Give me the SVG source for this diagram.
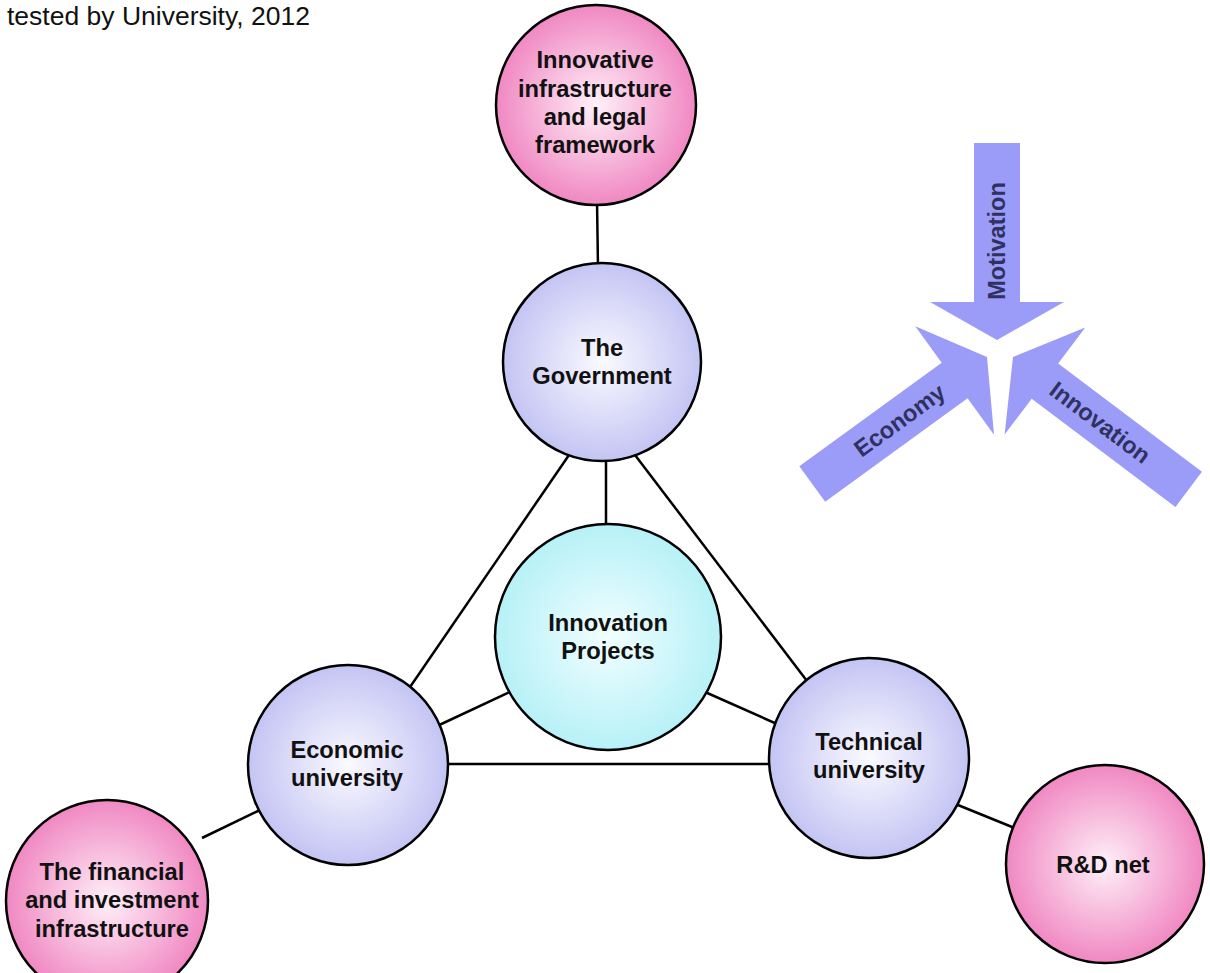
<svg xmlns="http://www.w3.org/2000/svg" width="1210" height="973" viewBox="0 0 1210 973">
<style>
  .node circle { stroke: #000; stroke-width: 2.5; }
  .lbl { font-family: "Liberation Sans", Arial, sans-serif; font-weight: bold; font-size: 23.7px; fill: #111; text-anchor: middle; }
  .conn line { stroke: #000; stroke-width: 2.5; }
  .arrow path { fill: #9b9bf8; }
  .alabel { font-family: "Liberation Sans", Arial, sans-serif; font-weight: bold; font-size: 23.5px; fill: #2f3260; text-anchor: middle; dominant-baseline: central; }
  .title { font-family: "Liberation Sans", Arial, sans-serif; font-size: 26.5px; fill: #111; }
</style>
<defs>
  <radialGradient id="gPink" cx="50%" cy="50%" r="50%">
    <stop offset="0" stop-color="#fff0f8"/>
    <stop offset="1" stop-color="#f088c2"/>
  </radialGradient>
  <radialGradient id="gLav" cx="50%" cy="50%" r="50%">
    <stop offset="0" stop-color="#fafaff"/>
    <stop offset="1" stop-color="#c4c4f4"/>
  </radialGradient>
  <radialGradient id="gCyan" cx="50%" cy="50%" r="50%">
    <stop offset="0" stop-color="#f2feff"/>
    <stop offset="1" stop-color="#b6f1f7"/>
  </radialGradient>
</defs>
<rect width="1210" height="973" fill="#fff"/>
<text class="title" x="7" y="25">tested by University, 2012</text>

<g id="connectors" class="conn">
  <line x1="597" y1="200" x2="598" y2="268"/>
  <line x1="606" y1="455" x2="606" y2="530"/>
  <line x1="569" y1="455" x2="408" y2="690"/>
  <line x1="635" y1="455" x2="807" y2="681"/>
  <line x1="512" y1="691" x2="435" y2="727"/>
  <line x1="705" y1="692" x2="777" y2="724"/>
  <line x1="442" y1="764" x2="774" y2="764"/>
  <line x1="260" y1="810" x2="202" y2="838"/>
  <line x1="953" y1="803" x2="1017" y2="829"/>
</g>

<g id="arrows" class="arrow">
  <g id="arrow-motivation" transform="translate(997,340) rotate(90)">
    <path d="M0,0 L-38,-67 L-38,-23 L-197,-23 L-197,23 L-38,23 L-38,67 Z"/>
    <text class="alabel" transform="translate(-99,0) rotate(180)">Motivation</text>
  </g>
  <g id="arrow-economy" transform="translate(987,357) rotate(-36)">
    <path d="M0,0 L-40,-67 L-40,-22 L-216,-22 L-216,22 L-40,22 L-40,67 Z"/>
    <text class="alabel" transform="translate(-108,0)">Economy</text>
  </g>
  <g id="arrow-innovation" transform="translate(1013,357) rotate(-143)">
    <path d="M0,0 L-40,-67 L-40,-22 L-220,-22 L-220,22 L-40,22 L-40,67 Z"/>
    <text class="alabel" transform="translate(-109,0) rotate(180)">Innovation</text>
  </g>
</g>

<g id="node-infrastructure" class="node">
  <circle cx="596" cy="105" r="100" fill="url(#gPink)"/>
  <text class="lbl" x="595" y="68">Innovative</text>
  <text class="lbl" x="595" y="97">infrastructure</text>
  <text class="lbl" x="595" y="125">and legal</text>
  <text class="lbl" x="595" y="153">framework</text>
</g>

<g id="node-government" class="node">
  <circle cx="602" cy="362" r="99" fill="url(#gLav)"/>
  <text class="lbl" x="602" y="356">The</text>
  <text class="lbl" x="602" y="384">Government</text>
</g>

<g id="node-projects" class="node">
  <circle cx="608" cy="637" r="113" fill="url(#gCyan)"/>
  <text class="lbl" x="608" y="631">Innovation</text>
  <text class="lbl" x="608" y="659">Projects</text>
</g>

<g id="node-economic" class="node">
  <circle cx="348" cy="765" r="100" fill="url(#gLav)"/>
  <text class="lbl" x="347" y="758">Economic</text>
  <text class="lbl" x="347" y="786">university</text>
</g>

<g id="node-technical" class="node">
  <circle cx="869" cy="758" r="100" fill="url(#gLav)"/>
  <text class="lbl" x="869" y="750">Technical</text>
  <text class="lbl" x="869" y="778">university</text>
</g>

<g id="node-financial" class="node">
  <circle cx="107" cy="901" r="101" fill="url(#gPink)"/>
  <text class="lbl" x="112" y="880">The financial</text>
  <text class="lbl" x="112" y="908">and investment</text>
  <text class="lbl" x="112" y="937">infrastructure</text>
</g>

<g id="node-rd" class="node">
  <circle cx="1105" cy="864" r="99" fill="url(#gPink)"/>
  <text class="lbl" x="1103" y="873">R&amp;D net</text>
</g>
</svg>
